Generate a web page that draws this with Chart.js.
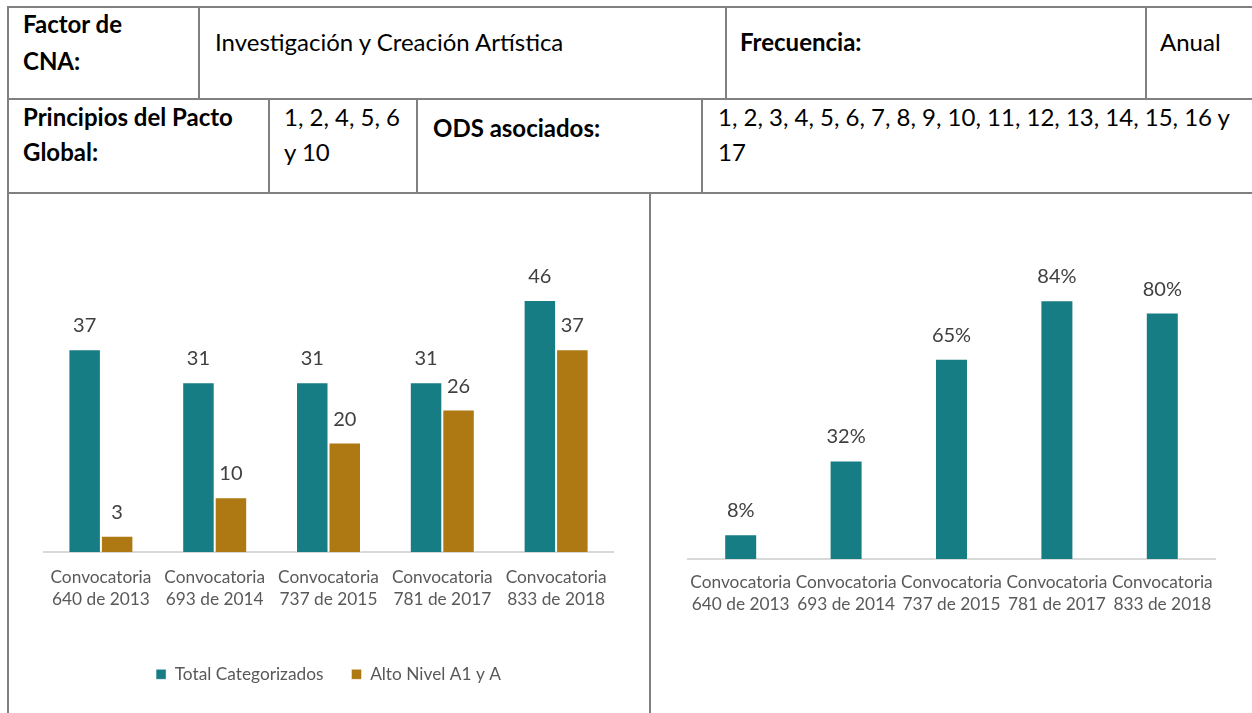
<!DOCTYPE html>
<html lang="es">
<head>
<meta charset="utf-8">
<title>Investigación y Creación Artística</title>
<script src="https://cdn.jsdelivr.net/npm/chart.js@4.4.1/dist/chart.umd.min.js"></script>
<style>
    body {
        margin: 0;
        width: 1252px;
        height: 713px;
        overflow: hidden;
        background: #fff;
        font-family: Lato, sans-serif;
    }
    #ficha { position: absolute; left: 0; top: 0; }
    #ficha line { stroke: #808080; stroke-width: 2; }
    #ficha text { font-family: Lato, sans-serif; font-size: 24px; fill: #000; }
    #ficha .b { font-weight: 700; }
    canvas { position: absolute; }
    #chartTotal { left: 10px; top: 195px; }
    #chartPct { left: 652px; top: 195px; }
</style>
</head>
<body>

<svg id="ficha" width="1252" height="713">
    <!-- table frame -->
    <line x1="8" y1="7" x2="1252" y2="7"/>
    <line x1="8" y1="99" x2="1252" y2="99"/>
    <line x1="8" y1="193" x2="1252" y2="193"/>
    <line x1="8" y1="6" x2="8" y2="713"/>
    <line x1="199" y1="7" x2="199" y2="99"/>
    <line x1="726" y1="7" x2="726" y2="99"/>
    <line x1="1146" y1="7" x2="1146" y2="99"/>
    <line x1="269" y1="99" x2="269" y2="193"/>
    <line x1="417" y1="99" x2="417" y2="193"/>
    <line x1="702" y1="99" x2="702" y2="193"/>
    <line x1="650" y1="193" x2="650" y2="713"/>

    <text class="b" x="23" y="33">Factor de</text>
    <text class="b" x="23" y="70">CNA:</text>
    <text x="215" y="51">Investigación y Creación Artística</text>
    <text class="b" x="740" y="51">Frecuencia:</text>
    <text x="1160" y="51">Anual</text>

    <text class="b" x="23" y="126">Principios del Pacto</text>
    <text class="b" x="23" y="161">Global:</text>
    <text x="284" y="126">1, 2, 4, 5, 6</text>
    <text x="284" y="161">y 10</text>
    <text class="b" x="433" y="137">ODS asociados:</text>
    <text x="718" y="126">1, 2, 3, 4, 5, 6, 7, 8, 9, 10, 11, 12, 13, 14, 15, 16 y</text>
    <text x="718" y="161">17</text>
</svg>

<canvas id="chartTotal" width="638" height="518" style="width:638px;height:518px"></canvas>
<canvas id="chartPct" width="600" height="518" style="width:600px;height:518px"></canvas>

<script>
const convocatorias = [
    ["Convocatoria", "640 de 2013"],
    ["Convocatoria", "693 de 2014"],
    ["Convocatoria", "737 de 2015"],
    ["Convocatoria", "781 de 2017"],
    ["Convocatoria", "833 de 2018"]
];

const totalCategorizados = [37, 31, 31, 31, 46];
const altoNivel = [3, 10, 20, 26, 37];
const pctAltoNivel = [8, 32, 65, 84, 80];

const TEAL = "#177d84";
const GOLD = "#ae7812";
const TICK_COLOR = "#595959";
const FONT = "Lato";

// value printed above each bar
const valueLabels = {
    id: "valueLabels",
    afterDatasetsDraw(chart, args, opts) {
        const ctx = chart.ctx;
        ctx.save();
        ctx.font = `20px ${FONT}`;
        ctx.fillStyle = "#404040";
        ctx.textAlign = "center";
        ctx.textBaseline = "alphabetic";
        chart.data.datasets.forEach((ds, i) => {
            chart.getDatasetMeta(i).data.forEach((bar, j) => {
                ctx.fillText(ds.data[j] + (opts.suffix || ""), bar.x, bar.y - 17);
            });
        });
        ctx.restore();
    }
};

function xAxis(height, padding) {
    return {
        grid: { display: false, drawTicks: false },
        border: { display: true, color: "#d9d9d9", width: 2 },
        ticks: {
            color: TICK_COLOR,
            font: { family: FONT, size: 17.3, lineHeight: 1.28 },
            padding: padding,
            autoSkip: false,
            maxRotation: 0,
            minRotation: 0
        },
        afterFit(scale) { scale.height = height; }
    };
}

function initTotalChart() {
    const ctx = document.getElementById("chartTotal").getContext("2d");
    new Chart(ctx, {
        type: "bar",
        data: {
            labels: convocatorias,
            datasets: [
                { label: "Total Categorizados", data: totalCategorizados, backgroundColor: TEAL,
                  borderColor: "rgba(255,255,255,0.45)", borderWidth: 1 },
                { label: "Alto Nivel A1 y A", data: altoNivel, backgroundColor: GOLD,
                  borderColor: "rgba(255,255,255,0.45)", borderWidth: 1 }
            ]
        },
        options: {
            responsive: false,
            animation: false,
            categoryPercentage: 0.571,
            barPercentage: 1,
            layout: { padding: { top: 83, left: 34, right: 35, bottom: 20 } },
            plugins: {
                legend: {
                    position: "bottom",
                    labels: {
                        boxWidth: 10,
                        boxHeight: 10,
                        padding: 28,
                        color: TICK_COLOR,
                        font: { family: FONT, size: 17.3 }
                    }
                },
                tooltip: { enabled: false },
                valueLabels: { suffix: "" }
            },
            scales: {
                x: xAxis(85.5, 14),
                y: { display: false, min: 0, max: 50 }
            }
        },
        plugins: [valueLabels]
    });
}

function initPctChart() {
    const ctx = document.getElementById("chartPct").getContext("2d");
    new Chart(ctx, {
        type: "bar",
        data: {
            labels: convocatorias,
            datasets: [
                { label: "% Alto Nivel", data: pctAltoNivel, backgroundColor: TEAL,
                  borderColor: "rgba(255,255,255,0.45)", borderWidth: 1 }
            ]
        },
        options: {
            responsive: false,
            animation: false,
            categoryPercentage: 1,
            barPercentage: 0.313,
            layout: { padding: { top: 56, left: 36, right: 37, bottom: 0 } },
            plugins: {
                legend: { display: false },
                tooltip: { enabled: false },
                valueLabels: { suffix: "%" }
            },
            scales: {
                x: xAxis(154, 12),
                y: { display: false, min: 0, max: 100 }
            }
        },
        plugins: [valueLabels]
    });
}

window.onload = () => {
    initTotalChart();
    initPctChart();
};
</script>
</body>
</html>
